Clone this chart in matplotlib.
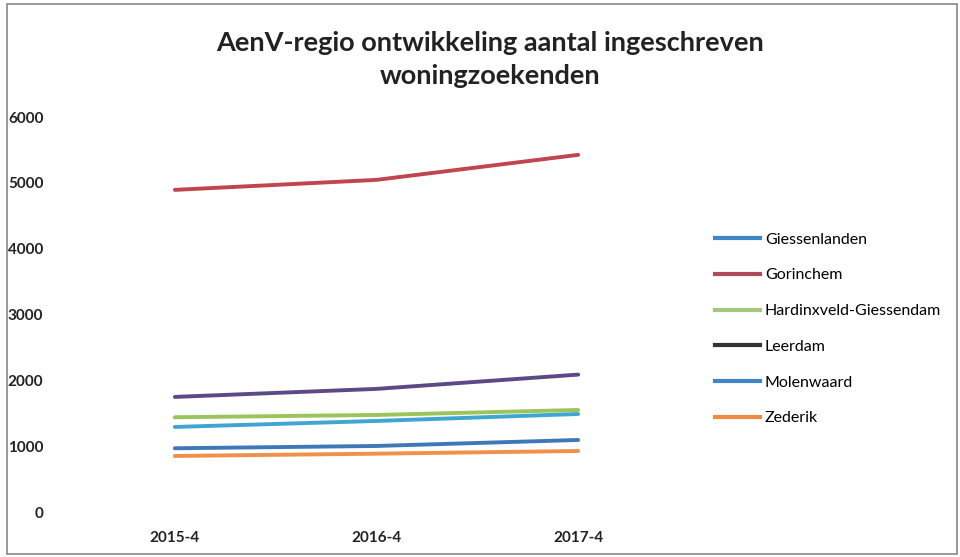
import matplotlib.pyplot as plt
from matplotlib.lines import Line2D
from matplotlib.patches import Rectangle

plt.rcParams['font.family'] = ['Lato', 'DejaVu Sans']

periods = ['2015-4', '2016-4', '2017-4']
names = ['Giessenlanden', 'Gorinchem', 'Hardinxveld-Giessendam',
         'Leerdam', 'Molenwaard', 'Zederik']
giessenlanden = [968, 1003, 1094]
gorinchem = [4893, 5045, 5425]
hardinxveld = [1439, 1474, 1550]
leerdam = [1748, 1870, 2087]
molenwaard = [1292, 1383, 1489]
zederik = [851, 886, 927]

series = [giessenlanden, gorinchem, hardinxveld, leerdam, molenwaard, zederik]
colors = ['#3f78b8', '#c0454d', '#9bc45a', '#5c4a86', '#3fa6d2', '#f0904a']
legend_colors = ['#3f86c6', '#b04a5a', '#a6c77c', '#333333', '#3f86c6', '#ef8a45']

fig = plt.figure(figsize=(9.6, 5.57), dpi=100)
ax = fig.add_axes([74/960, 1 - 512/557, (679-74)/960, (512-117)/557])

x = range(len(periods))
for vals, c in zip(series, colors):
    ax.plot(x, vals, color=c, lw=2.8, solid_capstyle='round')

ax.set_xlim(-0.5, 2.5)
ax.set_ylim(0, 6000)
ax.set_yticks(range(0, 6001, 1000))
ax.set_xticks(list(x))
ax.set_xticklabels(periods, fontsize=11, fontweight='bold', color='#222222')
ax.tick_params(axis='y', labelsize=11, length=0, pad=22, labelcolor='#222222')
ax.tick_params(axis='x', length=0, pad=14)
for t in ax.get_yticklabels():
    t.set_fontweight('bold')
for s in ax.spines.values():
    s.set_visible(False)

fig.text(490/960, 1 - 43/557, 'AenV-regio ontwikkeling aantal ingeschreven',
         ha='center', va='center', fontsize=19.5, fontweight='bold', color='#222222')
fig.text(490/960, 1 - 76/557, 'woningzoekenden',
         ha='center', va='center', fontsize=19.5, fontweight='bold', color='#222222')

handles = [Line2D([], [], color=c, lw=3) for c in legend_colors]
fig.legend(handles, names, loc='center left', bbox_to_anchor=(701/960, 1 - 329/557),
           frameon=False, fontsize=11.5, handlelength=2.8, handletextpad=0.3,
           labelspacing=1.35)

fig.patches.append(Rectangle((7/960, 3/557), 950/960, 550/557, transform=fig.transFigure,
                             fill=False, edgecolor='#888888', lw=1.2))

fig.savefig('out.png', dpi=100)
